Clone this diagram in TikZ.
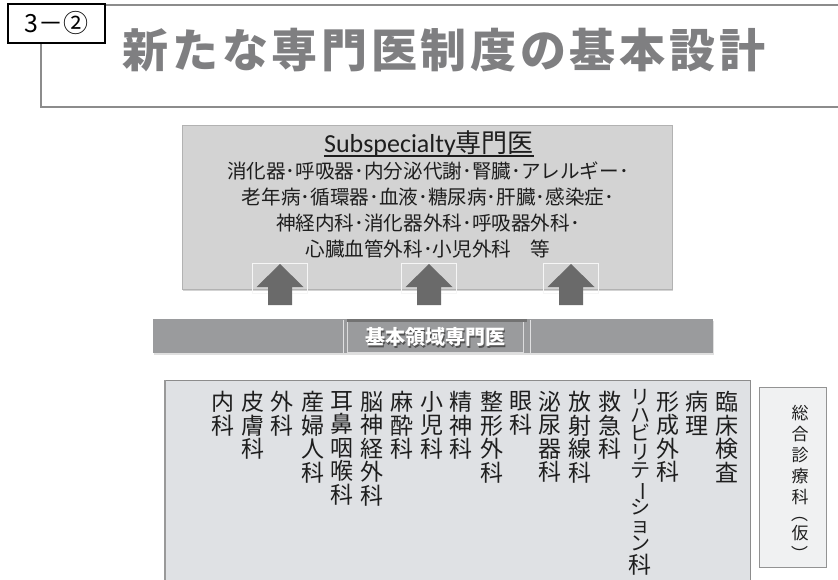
\documentclass[tikz,border=0pt]{standalone}
\usepackage{fontspec}
\usepackage{graphicx}
\setmainfont{Noto Sans CJK JP}
\newfontfamily\latf{Carlito}
\newfontfamily\titlef[LetterSpace=8]{Noto Sans CJK JP}
\usetikzlibrary{shadows}
\definecolor{framegray}{HTML}{8C8C8C}
\definecolor{titlegray}{HTML}{7F7F81}
\definecolor{subfill}{HTML}{D3D3D3}
\definecolor{barfill}{HTML}{9A9B9D}
\definecolor{arrowgray}{HTML}{6A6A6A}
\definecolor{lowfill}{HTML}{DFE1E4}
\definecolor{sogofill}{HTML}{F0F1F2}
\definecolor{inktext}{HTML}{1E1E1E}
\newcommand\vbar{\rotatebox[origin=c]{-90}{ー}}
\newcommand\vpar[1]{\rotatebox[origin=c]{-90}{#1}}
\newcommand\tightls{\lineskiplimit=-100pt\relax}
\newcommand\bigka{{\fontsize{23}{18.3}\selectfont 科}}
\begin{document}
\begin{tikzpicture}[x=1pt,y=-1pt,
  vcol/.style={anchor=north, inner sep=0, align=center, text=inktext,
    font=\fontsize{23}{23.5}\selectfont\tightls},
  bodyline/.style={anchor=base, inner sep=0, text=inktext, font=\fontsize{19.6}{19.6}\selectfont},
  faintbox/.style={draw=white!80!subfill, line width=0.6},
  bigarrow/.style={fill=arrowgray},
  barlabel/.style={font=\bfseries\fontsize{20}{20}\selectfont, inner sep=0}]
\useasboundingbox (0,0) rectangle (838,580);

% ---- header
\draw[framegray, line width=1.8] (105,5) -- (840,5);
\draw[framegray, line width=1.8] (41,43) -- (41,107) -- (840,107);
\node[draw=black, line width=1.6, fill=white, minimum width=97, minimum height=39, inner sep=0,
  font=\fontsize{25}{25}\selectfont] (lbl) at (56.5,23.5) {3－②};
\node[font=\titlef\bfseries\fontsize{46}{46}\selectfont, text=titlegray, inner sep=0] (title) at (444,50) {新たな専門医制度の基本設計};

% ---- subspecialty box
\node[fill=subfill, draw=gray!60, line width=0.5, minimum width=490, minimum height=164, inner sep=0,
  drop shadow={shadow xshift=1.2pt, shadow yshift=-1.5pt, opacity=.35}] (sub) at (427,207) {};
\node[anchor=base, inner sep=0, text=inktext, font=\fontsize{26}{26}\selectfont] (subt) at (429,153) {{\latf Subspecialty}専門医};
\draw[inktext, line width=1.1] ([yshift=-3pt]subt.base west) -- ([yshift=-3pt]subt.base east);
\node[bodyline] (l1) at (428,179) {消化器･呼吸器･内分泌代謝･腎臓･アレルギー･};
\node[bodyline] (l2) at (428,205) {老年病･循環器･血液･糖尿病･肝臓･感染症･};
\node[bodyline] (l3) at (428,231) {神経内科･消化器外科･呼吸器外科･};
\node[bodyline] (l4) at (428,256) {心臓血管外科･小児外科　等};

% ---- arrows
\foreach \cx in {280,429,571} {
  \draw[faintbox] (\cx-28,263) rectangle (\cx+27,293);
  \fill[bigarrow] (\cx,264) -- (\cx+23.5,287) -- (\cx+12,287) -- (\cx+12,305)
     -- (\cx-12,305) -- (\cx-12,287) -- (\cx-23.5,287) -- cycle;
}

% ---- base bar
\node[fill=barfill, minimum width=560, minimum height=34, inner sep=0,
  drop shadow={shadow xshift=1.2pt, shadow yshift=-1.5pt, opacity=.25}] (bar) at (433,336) {};
\draw[white!70!barfill, line width=0.5] (343,320) -- (343,353);
\draw[white!70!barfill, line width=0.5] (530,320) -- (530,353);
\node[draw=white!65!barfill, line width=0.5, minimum width=176, minimum height=31, inner sep=0] (barbox) at (435.5,337) {};
\fill[black!55] (347,318.5) rectangle (527,321.5);
\node[barlabel, text=black!75, opacity=.8] (barsh) at (436.5,338.5) {基本領域専門医};
\node[barlabel, text=white] (barlbl) at (435,337) {基本領域専門医};

% ---- lower box
\node[fill=lowfill, draw=gray!90, line width=0.8, anchor=north west, minimum width=585, minimum height=215, inner sep=0] (low) at (165,380) {};
\draw[gray!80, line width=2] (low.north west) -- (low.south west);

\node[vcol] (c1) at (223,391) {内\\科};
\node[vcol] (c2) at (253,391) {皮\\膚\\科};
\node[vcol] (c3) at (282,391) {外\\科};
\node[vcol] (c4) at (313,391) {産\\婦\\人\\科};
\node[vcol] (c5) at (342,391) {耳\\鼻\\咽\\喉\\科};
\node[vcol] (c6) at (372,391) {脳\\神\\経\\外\\科};
\node[vcol] (c7) at (402,391) {麻\\酔\\科};
\node[vcol] (c8) at (432,391) {小\\児\\科};
\node[vcol] (c9) at (461,391) {精\\神\\科};
\node[vcol] (c10) at (492,391) {整\\形\\外\\科};
\node[vcol] (c11) at (521,391) {眼\\科};
\node[vcol] (c12) at (550,391) {泌\\尿\\器\\科};
\node[vcol] (c13) at (580,391) {放\\射\\線\\科};
\node[vcol] (c14) at (610,391) {救\\急\\科};
\node[vcol, font=\fontsize{20}{18.3}\selectfont\tightls] (c15) at (640,389) {リ\\ハ\\ビ\\リ\\テ\\\vbar\\シ\\ョ\\ン\\[4.5pt]\bigka};
\node[vcol] (c16) at (668,391) {形\\成\\外\\科};
\node[vcol] (c17) at (697,391) {病\\理};
\node[vcol] (c18) at (727,391) {臨\\床\\検\\査};

% ---- general medicine box
\node[fill=sogofill, draw=gray!85, line width=0.8, minimum width=67, minimum height=180, inner sep=0] (sogo) at (792.5,477) {};
\node[anchor=north, inner sep=0, align=center, text=inktext,
  font=\fontsize{17}{21}\selectfont\tightls] (sogot) at (800,405)
  {総\\合\\診\\療\\科\\[-4pt]\vpar{（}\\[-2pt]仮\\\vpar{）}};
\end{tikzpicture}
\end{document}
